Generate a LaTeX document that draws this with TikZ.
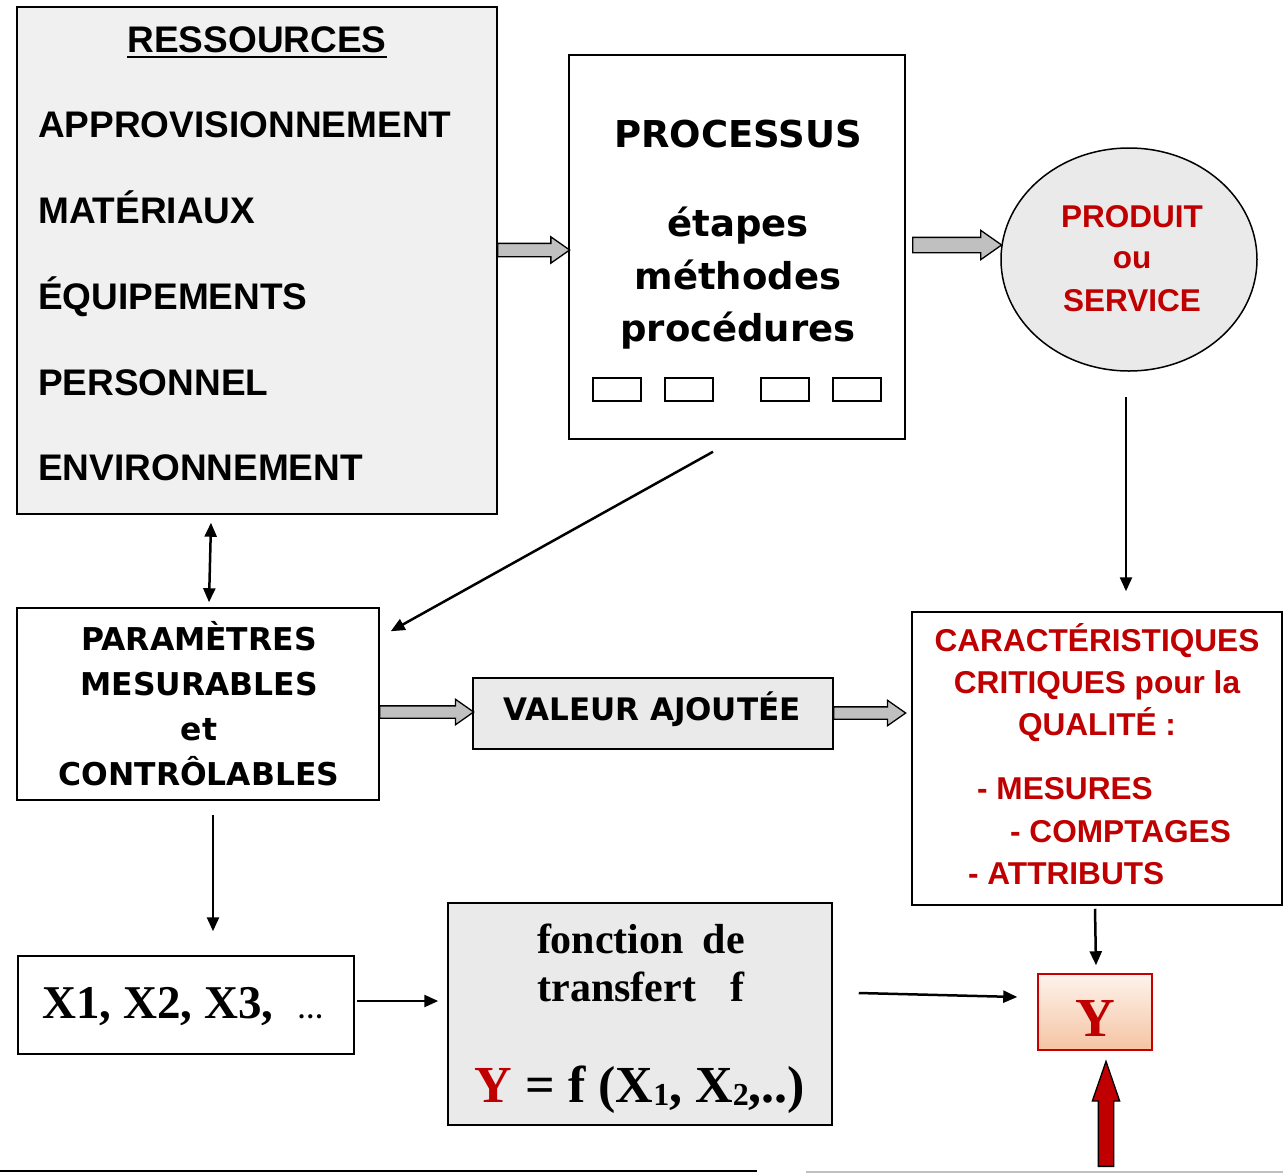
\documentclass[tikz,border=0pt]{standalone}
\usepackage{fontspec}
\newfontfamily\arial{Liberation Sans}
\newfontfamily\verd{DejaVu Sans}
\newfontfamily\tnr{Liberation Serif}
\usetikzlibrary{shapes.arrows, shapes.geometric, arrows.meta, positioning}
\usetikzlibrary{calc}
\usepackage{xcolor}
\definecolor{rouge}{RGB}{192,0,0}
\definecolor{grisclair}{RGB}{240,240,240}
\definecolor{grisfond}{RGB}{234,234,234}
\definecolor{grisfleche}{RGB}{192,192,192}
\definecolor{pechehaut}{RGB}{253,243,237}
\definecolor{pechemil}{RGB}{248,210,185}
\definecolor{pechebas}{RGB}{245,196,162}
\newcommand{\fsz}[1]{\fontsize{#1}{#1}\selectfont}

\tikzset{
	boite/.style={draw, line width=1.5pt, inner sep=0pt},
	txt/.style={inner sep=0pt, anchor=base},
	grosse/.style={single arrow, draw, line width=1.3pt, fill=grisfleche, inner sep=0pt, anchor=tail,
		single arrow head extend=6.5pt, single arrow tip angle=70},
	fl/.style={line width=2.5pt, -{Triangle[length=14pt,width=12pt]}},
}

\begin{document}
\begin{tikzpicture}[x=1pt,y=-1pt]
			\useasboundingbox (0,0) rectangle (1283,1173);
			% les boites
			\draw (257,260.5) node[boite, fill=grisclair, minimum width=480pt, minimum height=507pt] (res){}
			(737,247) node[boite, fill=white, minimum width=336pt, minimum height=384pt] (proc){}
			(1129,259.5) node[boite, ellipse, fill=grisfond, minimum width=256pt, minimum height=223pt] (prod){}
			(198,704) node[boite, fill=white, minimum width=362pt, minimum height=192pt] (param){}
			(653,713.5) node[boite, fill=grisfond, minimum width=360pt, minimum height=71pt] (val){}
			(1097,758.5) node[boite, fill=white, minimum width=370pt, minimum height=293pt] (carac){}
			(186,1005) node[boite, fill=white, minimum width=336pt, minimum height=98pt] (xs){}
			(640,1014) node[boite, fill=grisfond, minimum width=384pt, minimum height=222pt] (fonc){}
			(1095,1012) node[boite, draw=rouge!90!red, top color=pechehaut, middle color=pechemil, bottom color=pechebas, minimum width=114pt, minimum height=76pt] (yb){};
			
			% ressources
			\node[txt, font=\arial\bfseries\fsz{37}] (titre) at (257,52.5) {RESSOURCES};
			\draw[line width=2.8pt] ($(titre.base west)+(0,4.5)$) -- ($(titre.base east)+(0,4.5)$);
			\foreach \t/\y [count=\i] in {APPROVISIONNEMENT/137, MATÉRIAUX/223, ÉQUIPEMENTS/309, PERSONNEL/395, ENVIRONNEMENT/480}
				\node[txt, anchor=base west, font=\arial\bfseries\fsz{37}] (r\i) at (38,\y) {\t};
			
			% processus
			\node[txt, font=\verd\bfseries\fsz{37}] (p0) at (738,147.5) {PROCESSUS};
			\foreach \t/\y [count=\i] in {étapes/236, méthodes/289, procédures/341}
				\node[txt, font=\verd\bfseries\fsz{37}] (p\i) at (738,\y) {\t};
			\foreach \x in {593,665,761,833}
				\draw[line width=1.5pt] (\x,378) rectangle ++(48,23);
			
			% produit
			\foreach \t/\y [count=\i] in {PRODUIT/227, ou/268, SERVICE/311}
				\node[txt, text=rouge, font=\arial\bfseries\fsz{31.5}] (s\i) at (1132,\y) {\t};
			
			% parametres
			\foreach \t/\y [count=\i] in {PARAMÈTRES/650, MESURABLES/695, et/740, CONTRÔLABLES/785}
				\node[txt, font=\verd\bfseries\fsz{31.4}] (m\i) at (199,\y) {\t};
			\node[txt, font=\verd\bfseries\fsz{31}] (v1) at (652,720) {VALEUR AJOUTÉE};
			
			% caracteristiques
			\foreach \t/\y [count=\i] in {CARACTÉRISTIQUES/651, CRITIQUES pour la/693, QUALITÉ :/735}
				\node[txt, text=rouge, font=\arial\bfseries\fsz{31.6}] (c\i) at (1097,\y) {\t};
			\foreach \t/\x/\y [count=\i] in {- MESURES/977/799, - COMPTAGES/1010/842, - ATTRIBUTS/968/884}
				\node[txt, anchor=base west, text=rouge, font=\arial\bfseries\fsz{31.6}] (d\i) at (\x,\y) {\t};
			
			% variables et fonction
			\node[txt, anchor=base west, font=\tnr\bfseries\fsz{47}] (x1) at (42,1018) {X1, X2, X3,\hspace{24pt}{\fsz{26}…}};
			\node[txt, font=\tnr\bfseries\fsz{42}] (f1) at (641,953) {\makebox[208pt][s]{fonction de}};
			\node[txt, font=\tnr\bfseries\fsz{42}] (f2) at (641,1001) {\makebox[207pt][s]{transfert f}};
			\node[txt, font=\tnr\bfseries\fsz{52}] (f3) at (640,1102) {\textcolor{rouge}{Y} = f (X\raisebox{-3pt}{\fsz{32}1}, X\raisebox{-3pt}{\fsz{32}2},..)};
			\node[txt, text=rouge, font=\tnr\bfseries\fsz{55}] (y1) at (1095,1036) {Y};
			
			% grosses fleches
			\node[grosse, minimum height=72pt] (g1) at (497,250) {\rule{0pt}{12pt}};
			\node[grosse, minimum height=89pt, single arrow head extend=7pt] (g2) at (912,245) {\rule{0pt}{14pt}};
			\node[grosse, minimum height=94pt] (g3) at (379,712) {\rule{0pt}{11pt}};
			\node[grosse, minimum height=72pt] (g4) at (833,713) {\rule{0pt}{11pt}};
			\node[grosse, fill=rouge, rotate=90, minimum height=105pt,
				single arrow head extend=6pt, single arrow tip angle=38] (g5) at (1106,1167) {\rule{0pt}{14pt}};
			
			% fleches
			\draw[fl, {Triangle[length=14pt,width=12pt]}-{Triangle[length=14pt,width=12pt]}] ($(res.south)+(-46,8)$) -- ($(param.north)+(11,-5)$);
			\draw[fl] ($(proc.south)+(-24,12)$) -- ($(param.north east)+(11,24)$);
			\draw[fl] ($(prod.south)+(-3,25)$) -- ($(carac.north)+(29,-20)$);
			\draw[fl] ($(param.south)+(15,14)$) -- ($(xs.north)+(27,-24)$);
			\draw[fl] ($(xs.east)+(2,-4)$) -- ($(fonc.west)+(-9,-13)$);
			\draw[fl] ($(fonc.east)+(26,-21)$) -- ($(yb.west)+(-20,-15)$);
			\draw[fl] ($(carac.south)+(-2,3)$) -- ($(yb.north)+(1,-8)$);
			
			% traits du bas
			\draw[line width=2pt] (0,1171) -- (757,1171);
			\draw[line width=2pt, gray!50] (806,1172) -- (1283,1172);
		\end{tikzpicture}
\end{document}
